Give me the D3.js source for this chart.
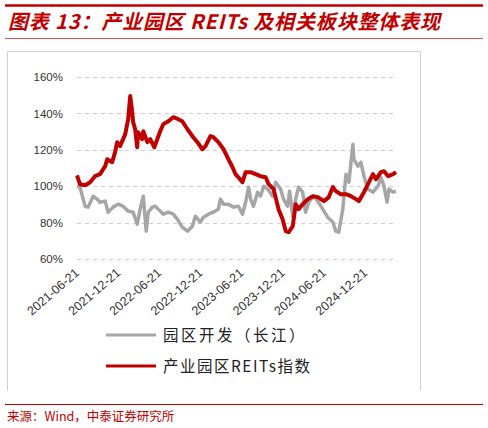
<!DOCTYPE html>
<html><head><meta charset="utf-8">
<script src="https://cdn.jsdelivr.net/npm/d3@7"></script>
<style>body{margin:0;background:#fff;}svg{display:block;}</style>
</head><body>
<svg id="c" width="488" height="428"></svg>
<script>
const titleText = "图表 13：产业园区 REITs 及相关板块整体表现";
const sourceText = "来源：Wind，中泰证券研究所";
const seriesNames = ["园区开发（长江）", "产业园区REITs指数"];
const yTicks = [60, 80, 100, 120, 140, 160];
const xTickLabels = ["2021-06-21","2021-12-21","2022-06-21","2022-12-21","2023-06-21","2023-12-21","2024-06-21","2024-12-21"];

const reitsDates = ["2021-06-21","2021-07-04","2021-07-27","2021-08-18","2021-09-09","2021-10-01","2021-10-24","2021-11-02","2021-11-24","2021-12-07","2021-12-16","2021-12-29","2022-01-21","2022-02-03","2022-02-12","2022-02-21","2022-02-25","2022-03-06","2022-03-15","2022-03-19","2022-04-06","2022-04-11","2022-04-29","2022-05-12","2022-05-30","2022-06-12","2022-06-25","2022-07-09","2022-07-31","2022-08-22","2022-09-13","2022-10-01","2022-10-24","2022-11-15","2022-12-07","2022-12-29","2023-01-12","2023-02-03","2023-02-16","2023-03-10","2023-04-02","2023-04-24","2023-05-12","2023-05-25","2023-06-07","2023-06-25","2023-07-09","2023-07-31","2023-08-22","2023-09-13","2023-10-06","2023-10-19","2023-11-10","2023-12-02","2023-12-20","2024-01-03","2024-01-16","2024-02-03","2024-02-16","2024-02-29","2024-03-18","2024-04-10","2024-05-02","2024-05-24","2024-06-20","2024-07-12","2024-07-30","2024-08-12","2024-09-03","2024-09-26","2024-10-18","2024-11-09","2024-11-22","2024-12-15","2025-01-06","2025-01-24","2025-02-06","2025-02-28","2025-03-14","2025-04-01","2025-04-23","2025-05-06"];
const reitsValues = [106.0,101.1,100.5,102.2,105.5,106.6,111.0,114.8,113.2,118.7,124.2,122.0,128.6,136.8,149.5,140.7,135.2,131.3,121.4,129.7,125.8,130.2,124.2,125.8,121.4,125.8,130.2,134.1,135.7,137.9,136.8,135.7,131.3,127.5,124.2,120.3,122.0,127.5,126.9,124.2,120.3,114.8,110.4,106.6,104.9,102.2,107.7,107.7,106.6,105.5,104.9,101.1,98.4,87.4,81.9,75.3,74.7,78.0,90.1,87.4,90.1,92.9,94.5,94.0,91.8,94.0,99.5,97.3,95.6,95.6,94.5,92.9,91.8,96.7,102.2,106.6,103.8,107.7,108.2,105.5,106.6,107.7];

const devDates = ["2021-06-21","2021-07-04","2021-07-27","2021-08-09","2021-09-01","2021-09-18","2021-10-01","2021-10-24","2021-11-06","2021-11-28","2021-12-20","2022-01-11","2022-02-03","2022-02-25","2022-03-15","2022-03-28","2022-04-11","2022-04-24","2022-05-03","2022-05-21","2022-06-03","2022-06-16","2022-07-09","2022-07-31","2022-08-22","2022-09-09","2022-10-01","2022-10-24","2022-11-15","2022-11-28","2022-12-20","2023-01-03","2023-01-25","2023-02-16","2023-03-10","2023-03-19","2023-04-02","2023-04-24","2023-05-16","2023-06-07","2023-06-25","2023-07-09","2023-07-22","2023-07-31","2023-08-13","2023-08-31","2023-09-13","2023-09-27","2023-10-15","2023-11-06","2023-11-19","2023-12-11","2023-12-24","2024-01-11","2024-01-20","2024-02-03","2024-02-16","2024-02-29","2024-03-18","2024-03-31","2024-04-14","2024-05-06","2024-05-24","2024-06-15","2024-07-07","2024-07-30","2024-08-12","2024-08-25","2024-09-12","2024-09-26","2024-10-09","2024-10-27","2024-10-31","2024-11-18","2024-12-01","2024-12-15","2025-01-01","2025-01-24","2025-02-15","2025-02-28","2025-03-14","2025-03-27","2025-04-05","2025-04-23","2025-05-06"];
const devValues = [100.0,99.5,89.0,88.5,94.5,92.9,91.2,91.8,85.7,88.5,90.1,89.0,86.3,85.7,79.1,87.4,94.5,75.3,85.7,88.5,89.0,87.4,84.6,85.7,84.6,81.9,77.5,75.3,78.0,83.5,80.2,83.0,84.6,85.7,87.4,92.9,90.1,90.1,88.5,89.0,84.6,91.2,99.5,92.9,89.0,96.7,94.5,100.0,98.4,94.5,102.2,98.4,92.9,89.0,97.3,83.5,92.9,99.5,96.7,85.7,91.2,94.5,91.8,87.4,83.0,80.2,75.3,74.7,87.4,106.6,102.2,123.1,114.8,111.0,113.2,105.5,98.4,96.7,100.0,104.9,100.0,91.2,98.4,96.7,97.3];

const parse = d3.timeParse("%Y-%m-%d");
const svg = d3.select("#c");
const red = "#c00000";

// header
svg.append("line").attr("x1",5).attr("x2",483).attr("y1",5.5).attr("y2",5.5).attr("stroke",red).attr("stroke-width",2.5);
svg.append("text").attr("x",8).attr("y",29).text(titleText)
  .attr("fill",red).attr("font-size",20).attr("font-weight","bold").attr("font-style","italic")
  .attr("textLength",432).attr("lengthAdjust","spacing")
  .attr("font-family","'Noto Sans CJK SC', 'Liberation Sans', sans-serif");
svg.append("line").attr("x1",5).attr("x2",483).attr("y1",38.5).attr("y2",38.5).attr("stroke","#d9534f").attr("stroke-width",1);

// frame
svg.append("path").attr("d","M7.5,391 V51.5 H420.5 V391").attr("fill","none").attr("stroke","#cfcfcf").attr("stroke-width",1);

const x = d3.scaleTime().domain([parse("2021-06-21"), parse("2025-05-06")]).range([77, 396]);
const y = d3.scaleLinear().domain([60, 160]).range([259, 77]);

const grid = svg.append("g");
grid.selectAll("line").data(yTicks).join("line")
  .attr("x1",77).attr("x2",396).attr("y1",d=>Math.round(y(d))+0.5).attr("y2",d=>Math.round(y(d))+0.5)
  .attr("stroke","#d0d0d0").attr("stroke-dasharray","4,4");

const yAxis = svg.append("g").attr("transform","translate(66,0)")
  .call(d3.axisLeft(y).tickValues(yTicks).tickSize(0).tickFormat(d=>d+"%"));
yAxis.select(".domain").remove();
yAxis.selectAll("text").attr("font-size",11.5).attr("fill","#333").attr("font-family","'Liberation Sans', Arial, sans-serif").attr("dx",0);

const xAxis = svg.append("g").attr("transform","translate(0,0)")
  .call(d3.axisBottom(x).tickValues(xTickLabels.map(parse)).tickSize(0).tickFormat(d3.timeFormat("%Y-%m-%d")));
xAxis.select(".domain").remove();
xAxis.selectAll(".tick").attr("transform", d => `translate(${x(d)+3},274)`);
xAxis.selectAll("text").attr("font-size",12.5).attr("fill","#333").attr("font-family","'Liberation Sans', Arial, sans-serif")
  .attr("text-anchor","end").attr("transform","rotate(-41)").attr("x",0).attr("y",0).attr("dy",0);

const line = d3.line().x(d=>x(d[0])).y(d=>y(d[1]));
const devData = devDates.map((d,i)=>[parse(d), devValues[i]]);
const reitsData = reitsDates.map((d,i)=>[parse(d), reitsValues[i]]);
svg.append("path").datum(devData).attr("d",line).attr("fill","none").attr("stroke","#a6a6a6").attr("stroke-width",3.5).attr("stroke-linejoin","round");
svg.append("path").datum(reitsData).attr("d",line).attr("fill","none").attr("stroke",red).attr("stroke-width",4).attr("stroke-linejoin","round");

// legend
const leg = svg.append("g");
const legColors = ["#a6a6a6", red];
const legY = [335, 366];
seriesNames.forEach((n,i)=>{
  leg.append("line").attr("x1",106).attr("x2",156).attr("y1",legY[i]).attr("y2",legY[i]).attr("stroke",legColors[i]).attr("stroke-width",3);
  leg.append("text").attr("x",163).attr("y",legY[i]+5.5).text(n).attr("font-size",15.5).attr("letter-spacing",i===0?2.5:1.5)
    .attr("fill","#222").attr("font-family","'Noto Sans CJK SC', sans-serif");
});

// footer
svg.append("line").attr("x1",5).attr("x2",483).attr("y1",404.5).attr("y2",404.5).attr("stroke",red).attr("stroke-width",1);
svg.append("text").attr("x",7).attr("y",421).text(sourceText).attr("fill",red).attr("font-size",12.5)
  .attr("font-family","'Noto Sans CJK SC', sans-serif");
</script>
</body></html>
